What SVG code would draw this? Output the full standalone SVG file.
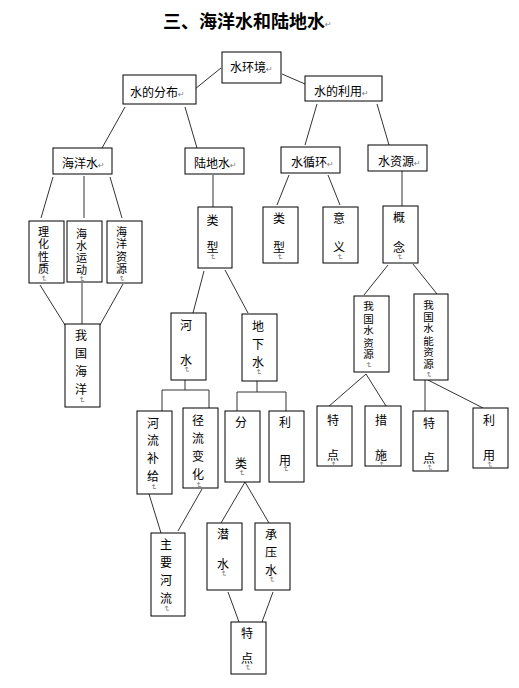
<svg xmlns="http://www.w3.org/2000/svg" width="519" height="688" viewBox="0 0 519 688">
<style>
.b{fill:#fff;stroke:#000;stroke-width:1}
.t{font-family:"Noto Sans CJK SC","Noto Sans",sans-serif;font-size:12px;fill:#000}
.v{font-family:"Noto Sans CJK SC","Noto Sans",sans-serif;font-size:12px;fill:#000;writing-mode:vertical-rl}
.s{font-size:11px}
.xs{font-size:10.5px}
.m{font-family:"DejaVu Sans",sans-serif;font-size:8px;fill:#808080}
.title{font-family:"Noto Sans CJK SC",sans-serif;font-size:18px;font-weight:bold;fill:#000}
#edges line,#edges polyline{stroke:#333;stroke-width:1;fill:none}
</style>
<rect width="519" height="688" fill="#fff"/>
<text class="title" x="163" y="28">三、海洋水和陆地水<tspan class="m" font-weight="normal" font-size="9px" dy="-1">↵</tspan></text>

<g id="edges">
<line x1="221" y1="68" x2="195" y2="89"/>
<line x1="282" y1="74" x2="305" y2="84"/>
<line x1="125" y1="107" x2="102" y2="148"/>
<line x1="185" y1="107" x2="197" y2="148"/>
<line x1="53" y1="177" x2="41" y2="218"/>
<line x1="84" y1="176" x2="84" y2="218"/>
<line x1="110" y1="177" x2="122" y2="218"/>
<line x1="40" y1="285" x2="65" y2="325"/>
<line x1="82" y1="283" x2="82" y2="324"/>
<line x1="123" y1="284" x2="100" y2="325"/>
<line x1="213" y1="175" x2="213" y2="207"/>
<line x1="204" y1="271" x2="193" y2="313"/>
<line x1="225" y1="270" x2="248" y2="313"/>
<line x1="185" y1="380" x2="185" y2="390"/>
<polyline points="162,411 162,390 209,390 209,408"/>
<line x1="257" y1="381" x2="257" y2="392"/>
<polyline points="237,411 237,392 286,392 286,411"/>
<line x1="149" y1="494" x2="161" y2="533"/>
<line x1="202" y1="489" x2="178" y2="531"/>
<line x1="245" y1="482" x2="221" y2="523"/>
<line x1="245" y1="482" x2="269" y2="523"/>
<line x1="228" y1="592" x2="239" y2="622"/>
<line x1="273" y1="592" x2="262" y2="622"/>
<line x1="317" y1="104" x2="305" y2="145"/>
<line x1="377" y1="104" x2="389" y2="145"/>
<line x1="289" y1="175" x2="277" y2="205"/>
<line x1="328" y1="175" x2="340" y2="205"/>
<line x1="402" y1="171" x2="402" y2="206"/>
<line x1="388" y1="265" x2="364" y2="295"/>
<line x1="413" y1="264" x2="437" y2="294"/>
<line x1="366" y1="374" x2="328" y2="407"/>
<line x1="366" y1="374" x2="386" y2="406"/>
<line x1="425" y1="380" x2="425" y2="411"/>
<line x1="428" y1="380" x2="483" y2="408"/>
</g>

<g id="n-shuihuanjing"><rect class="b" x="222" y="52" width="59" height="31"/><text class="t" x="230" y="72">水环境<tspan class="m">↵</tspan></text></g>
<g id="n-fenbu"><rect class="b" x="123" y="75" width="73" height="29"/><text class="t" x="130" y="97">水的分布<tspan class="m">↵</tspan></text></g>
<g id="n-liyong"><rect class="b" x="305" y="76" width="77" height="25"/><text class="t" x="314" y="96">水的利用<tspan class="m">↵</tspan></text></g>
<g id="n-haiyangshui"><rect class="b" x="53" y="148" width="59" height="26"/><text class="t" x="62" y="168">海洋水<tspan class="m">↵</tspan></text></g>
<g id="n-ludishui"><rect class="b" x="185" y="148" width="59" height="26"/><text class="t" x="194" y="168">陆地水<tspan class="m">↵</tspan></text></g>
<g id="n-shuixunhuan"><rect class="b" x="281" y="147" width="59" height="26"/><text class="t" x="291" y="167">水循环<tspan class="m">↵</tspan></text></g>
<g id="n-shuiziyuan"><rect class="b" x="368" y="145" width="59" height="26"/><text class="t" x="378" y="166">水资源<tspan class="m">↵</tspan></text></g>

<g id="n-lihua"><rect class="b" x="29" y="221" width="35" height="62"/><text class="v s" x="43.5" y="226">理<tspan dy="1.5">化</tspan><tspan dy="1.5">性</tspan><tspan dy="1.5">质</tspan><tspan class="m" dy="1">↵</tspan></text></g>
<g id="n-haishuiyundong"><rect class="b" x="67" y="221" width="35" height="61"/><text class="v s" x="81.5" y="228">海<tspan dy="1">水</tspan><tspan dy="1">运</tspan><tspan dy="1">动</tspan><tspan class="m" dy="1">↵</tspan></text></g>
<g id="n-haiyangziyuan"><rect class="b" x="107" y="221" width="35" height="62"/><text class="v s" x="121.5" y="226">海<tspan dy="1.5">洋</tspan><tspan dy="1.5">资</tspan><tspan dy="1.5">源</tspan><tspan class="m" dy="1">↵</tspan></text></g>
<g id="n-woguohaiyang"><rect class="b" x="65" y="324" width="35" height="83"/><text class="v" x="81" y="329">我<tspan dy="6.3">国</tspan><tspan dy="6.3">海</tspan><tspan dy="6.3">洋</tspan><tspan class="m" dy="1">↵</tspan></text></g>

<g id="n-leixing1"><rect class="b" x="198" y="207" width="34" height="61"/><text class="v" x="212.5" y="214">类<tspan dy="15">型</tspan><tspan class="m" dy="1">↵</tspan></text></g>
<g id="n-heshui"><rect class="b" x="171" y="313" width="35" height="67"/><text class="v" x="186" y="319">河<tspan dy="23">水</tspan><tspan class="m" dy="0.5">↵</tspan></text></g>
<g id="n-dixiashui"><rect class="b" x="242" y="314" width="35" height="67"/><text class="v" x="258" y="320">地<tspan dy="6">下</tspan><tspan dy="6">水</tspan><tspan class="m" dy="1">↵</tspan></text></g>
<g id="n-heliubuji"><rect class="b" x="137" y="411" width="35" height="83"/><text class="v" x="153" y="417">河<tspan dy="5.7">流</tspan><tspan dy="5.7">补</tspan><tspan dy="5.7">给</tspan><tspan class="m" dy="2">↵</tspan></text></g>
<g id="n-jingliu"><rect class="b" x="183" y="408" width="35" height="80"/><text class="v" x="198" y="414">径<tspan dy="6">流</tspan><tspan dy="6">变</tspan><tspan dy="6">化</tspan><tspan class="m" dy="2">↵</tspan></text></g>
<g id="n-fenlei"><rect class="b" x="225" y="411" width="35" height="71"/><text class="v" x="241" y="416">分<tspan dy="29">类</tspan><tspan class="m" dy="1">↵</tspan></text></g>
<g id="n-liyong1"><rect class="b" x="269" y="411" width="35" height="71"/><text class="v" x="285" y="416">利<tspan dy="26">用</tspan><tspan class="m" dy="0">↵</tspan></text></g>
<g id="n-zhuyaoheliu"><rect class="b" x="151" y="533" width="34" height="83"/><text class="v" x="166" y="538">主<tspan dy="6.3">要</tspan><tspan dy="6.3">河</tspan><tspan dy="6.3">流</tspan><tspan class="m" dy="0.5">↵</tspan></text></g>
<g id="n-qianshui"><rect class="b" x="207" y="523" width="35" height="67"/><text class="v" x="223" y="528">潜<tspan dy="18">水</tspan><tspan class="m" dy="0.5">↵</tspan></text></g>
<g id="n-chengyashui"><rect class="b" x="255" y="523" width="35" height="67"/><text class="v" x="271" y="528">承<tspan dy="6">压</tspan><tspan dy="6">水</tspan><tspan class="m" dy="0.5">↵</tspan></text></g>
<g id="n-tedian1"><rect class="b" x="231" y="622" width="35" height="52"/><text class="v" x="247" y="627">特<tspan dy="13">点</tspan><tspan class="m" dy="0.5">↵</tspan></text></g>

<g id="n-leixing2"><rect class="b" x="263" y="207" width="35" height="56"/><text class="v" x="279" y="212">类<tspan dy="17">型</tspan><tspan class="m" dy="1">↵</tspan></text></g>
<g id="n-yiyi"><rect class="b" x="323" y="207" width="35" height="56"/><text class="v" x="339" y="212">意<tspan dy="17">义</tspan><tspan class="m" dy="1">↵</tspan></text></g>
<g id="n-gainian"><rect class="b" x="383" y="206" width="35" height="57"/><text class="v" x="399" y="211">概<tspan dy="18">念</tspan><tspan class="m" dy="1">↵</tspan></text></g>
<g id="n-woguoshuiziyuan"><rect class="b" x="354" y="296" width="35" height="76"/><text class="v xs" x="368.5" y="301">我<tspan dy="1.5">国</tspan><tspan dy="1.5">水</tspan><tspan dy="1.5">资</tspan><tspan dy="1.5">源</tspan><tspan class="m" dy="2">↵</tspan></text></g>
<g id="n-woguoshuineng"><rect class="b" x="414" y="294" width="34" height="86"/><text class="v xs" x="428.5" y="300">我<tspan dy="1.1">国</tspan><tspan dy="1.1">水</tspan><tspan dy="1.1">能</tspan><tspan dy="1.1">资</tspan><tspan dy="1.1">源</tspan><tspan class="m" dy="3">↵</tspan></text></g>
<g id="n-tedian2"><rect class="b" x="317" y="406" width="35" height="60"/><text class="v" x="333" y="414">特<tspan dy="23">点</tspan><tspan class="m" dy="0.5">↵</tspan></text></g>
<g id="n-cuoshi"><rect class="b" x="365" y="406" width="36" height="60"/><text class="v" x="381" y="414">措<tspan dy="23">施</tspan><tspan class="m" dy="0.5">↵</tspan></text></g>
<g id="n-tedian3"><rect class="b" x="413" y="411" width="35" height="60"/><text class="v" x="429" y="417">特<tspan dy="23">点</tspan><tspan class="m" dy="0.5">↵</tspan></text></g>
<g id="n-liyong2"><rect class="b" x="473" y="408" width="35" height="60"/><text class="v" x="489" y="414">利<tspan dy="23">用</tspan><tspan class="m" dy="0.5">↵</tspan></text></g>
</svg>
